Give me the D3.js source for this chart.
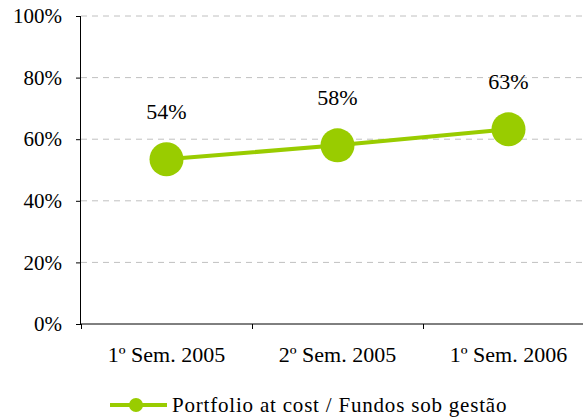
<!DOCTYPE html>
<html>
<head>
<meta charset="utf-8">
<script src="https://cdn.jsdelivr.net/npm/d3@7"></script>
<style>
  body { margin: 0; background: #fff; }
</style>
</head>
<body>
<svg width="583" height="419"></svg>
<script>
// data
var categories = ["1º Sem. 2005", "2º Sem. 2005", "1º Sem. 2006"];
var values = [0.535, 0.58, 0.632];
var valueLabels = ["54%", "58%", "63%"];
var yTicks = [0, 0.2, 0.4, 0.6, 0.8, 1.0];
var seriesName = "Portfolio at cost / Fundos sob gestão";

var green = "#99cc00";
var serif = "'Liberation Serif'";

var svg = d3.select("svg");

var x = d3.scaleBand().domain(categories).range([81, 594]);
var y = d3.scaleLinear().domain([0, 1]).range([324, 16]);

// gridlines
svg.append("g")
    .selectAll("line")
    .data(yTicks.filter(function (d) { return d > 0; }))
    .enter()
    .append("line")
    .attr("x1", 81).attr("x2", 583)
    .attr("y1", function (d) { return y(d); })
    .attr("y2", function (d) { return y(d); })
    .attr("stroke", "#c0c0c0")
    .attr("stroke-dasharray", "6,5");

// y axis
var yAxis = svg.append("g")
    .attr("transform", "translate(81,0)")
    .call(d3.axisLeft(y).tickValues(yTicks).tickFormat(d3.format(".0%")).tickSize(5).tickPadding(14));
yAxis.attr("font-family", null).attr("font-size", null);
yAxis.select(".domain").attr("stroke", "#000").attr("d", "M-0.5,16V324");
yAxis.selectAll("text")
    .style("font-family", serif)
    .style("font-size", "21px")
    .style("fill", "#000");

// x axis
var xAxis = svg.append("g")
    .attr("transform", "translate(0,324)");
xAxis.append("line")
    .attr("x1", 81).attr("x2", 583).attr("y1", 0).attr("y2", 0)
    .attr("stroke", "#000");
xAxis.selectAll(".tick")
    .data(categories)
    .enter()
    .append("line")
    .attr("x1", function (d) { return Math.round(x(d)) + 0.5; })
    .attr("x2", function (d) { return Math.round(x(d)) + 0.5; })
    .attr("y1", 0).attr("y2", 5)
    .attr("stroke", "#000");
xAxis.selectAll(".lbl")
    .data(categories)
    .enter()
    .append("text")
    .attr("x", function (d) { return x(d) + x.bandwidth() / 2; })
    .attr("y", 38)
    .attr("text-anchor", "middle")
    .style("font-family", serif)
    .style("font-size", "22px")
    .text(function (d) { return d; });

// line + markers
var cx = function (d, i) { return x(categories[i]) + x.bandwidth() / 2; };
var line = d3.line()
    .x(function (d, i) { return cx(d, i); })
    .y(function (d) { return y(d); });

svg.append("path")
    .datum(values)
    .attr("d", line)
    .attr("fill", "none")
    .attr("stroke", green)
    .attr("stroke-width", 4);

svg.selectAll(".pt")
    .data(values)
    .enter()
    .append("circle")
    .attr("class", "pt")
    .attr("cx", cx)
    .attr("cy", function (d) { return y(d); })
    .attr("r", 17)
    .attr("fill", green);

svg.selectAll(".vlbl")
    .data(values)
    .enter()
    .append("text")
    .attr("x", cx)
    .attr("y", function (d) { return y(d) - 40; })
    .attr("text-anchor", "middle")
    .style("font-family", serif)
    .style("font-size", "22px")
    .text(function (d, i) { return valueLabels[i]; });

// legend
var lg = svg.append("g").attr("transform", "translate(0,405)");
lg.append("line")
    .attr("x1", 110).attr("x2", 167).attr("y1", 0).attr("y2", 0)
    .attr("stroke", green).attr("stroke-width", 4);
lg.append("circle")
    .attr("cx", 136).attr("cy", 0).attr("r", 7)
    .attr("fill", green);
lg.append("text")
    .attr("x", 172).attr("y", 7)
    .style("font-family", serif)
    .style("font-size", "21px")
    .style("letter-spacing", "0.8px")
    .text(seriesName);
</script>
</body>
</html>
